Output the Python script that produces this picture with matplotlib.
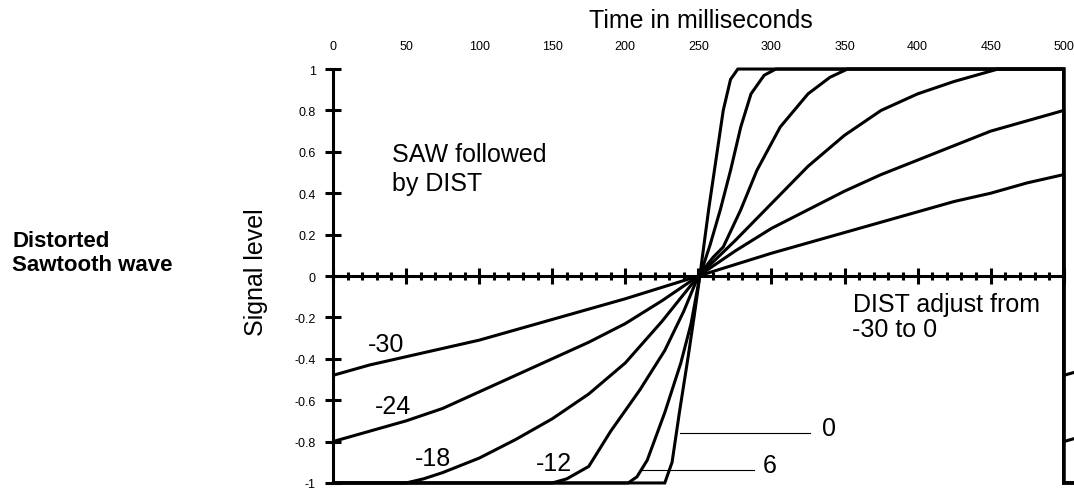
import matplotlib.pyplot as plt

plt.rcParams['font.family'] = ['Liberation Sans', 'DejaVu Sans']

# time axis ticks (ms) and signal level ticks
x_ticks = [0, 50, 100, 150, 200, 250, 300, 350, 400, 450, 500]
y_ticks = [-1, -0.8, -0.6, -0.4, -0.2, 0, 0.2, 0.4, 0.6, 0.8, 1]
y_labels = ['-1', '-0.8', '-0.6', '-0.4', '-0.2', '0', '0.2', '0.4', '0.6', '0.8', '1']

# one period of each distorted saw
t_m30 = [0, 25, 50, 75, 100, 125, 150, 175, 200, 225, 250, 275, 300, 325, 350, 375, 400, 425, 450, 475, 500]
v_m30 = [-0.48, -0.43, -0.39, -0.35, -0.31, -0.26, -0.21, -0.16, -0.11, -0.055, 0.0,
         0.055, 0.11, 0.16, 0.21, 0.26, 0.31, 0.36, 0.40, 0.45, 0.49]

t_m24 = [0, 25, 50, 75, 100, 125, 150, 175, 200, 225, 250, 275, 300, 325, 350, 375, 400, 425, 450, 475, 500]
v_m24 = [-0.80, -0.75, -0.70, -0.64, -0.56, -0.48, -0.40, -0.32, -0.23, -0.12, 0.0,
         0.12, 0.23, 0.32, 0.41, 0.49, 0.56, 0.63, 0.70, 0.75, 0.80]

t_m18 = [0, 50, 62, 75, 100, 125, 150, 175, 200, 225, 250, 275, 300, 325, 350, 375, 400, 425, 440, 455, 500]
v_m18 = [-1, -1, -0.98, -0.95, -0.88, -0.79, -0.69, -0.57, -0.42, -0.22, 0.0,
         0.17, 0.35, 0.53, 0.68, 0.80, 0.88, 0.94, 0.97, 1.0, 1.0]

t_m12 = [0, 150, 160, 175, 190, 200, 210, 227, 240, 250, 260, 267, 279, 290, 306, 325, 340, 352, 500]
v_m12 = [-1, -1, -0.98, -0.92, -0.75, -0.65, -0.55, -0.36, -0.17, 0.0, 0.09, 0.14, 0.32, 0.51,
         0.72, 0.88, 0.96, 1.0, 1.0]

t_0 = [0, 202, 208, 215, 227, 238, 245, 251, 258, 265, 272, 279, 286, 295, 303, 500]
v_0 = [-1, -1, -0.97, -0.89, -0.66, -0.42, -0.23, 0.0, 0.15, 0.32, 0.51, 0.72, 0.88, 0.97, 1.0, 1.0]

t_6 = [0, 227, 232, 237, 243, 247, 251, 257, 262, 267, 272, 277, 500]
v_6 = [-1, -1, -0.90, -0.66, -0.39, -0.20, 0.0, 0.32, 0.56, 0.80, 0.95, 1.0, 1.0]

curves = [(t_m30, v_m30), (t_m24, v_m24), (t_m18, v_m18), (t_m12, v_m12), (t_0, v_0), (t_6, v_6)]
period = 500

W, H = 1074, 489
fig = plt.figure(figsize=(W / 100, H / 100), dpi=100)
ax = fig.add_axes([333 / W, 1 - 488.1 / H, 741 / W, 422.2 / H])
ax.set_xlim(0, 507)
ax.set_ylim(-1.02, 1.02)

for t, v in curves:
    # period plus the start of the next one (reset back down)
    tt = list(t) + [period + t[0], period + t[1]]
    vv = list(v) + [v[0], v[1]]
    ax.plot(tt, vv, color='black', lw=2.2, solid_joinstyle='miter')

# axes: left spine and zero line with crossing ticks
ax.spines['top'].set_visible(False)
ax.spines['right'].set_visible(False)
ax.spines['left'].set_bounds(-1, 1)
ax.spines['left'].set_linewidth(2.2)
ax.spines['bottom'].set_position(('data', 0))
ax.spines['bottom'].set_bounds(0, 500)
ax.spines['bottom'].set_linewidth(2.2)

ax.set_xticks(x_ticks)
ax.set_xticks(range(0, 501, 10), minor=True)
ax.tick_params(axis='x', which='major', direction='inout', length=11, width=2.2, labelbottom=False)
ax.tick_params(axis='x', which='minor', direction='inout', length=6, width=2.2)

ax.set_yticks(y_ticks)
ax.set_yticklabels(y_labels)
ax.tick_params(axis='y', direction='inout', length=11.5, width=2.2, pad=6.5, labelsize=9)

secax = ax.secondary_xaxis('top')
secax.set_xticks(x_ticks)
secax.set_xticklabels([str(x) for x in x_ticks])
secax.tick_params(length=0, pad=9.5, labelsize=9)
secax.spines['top'].set_visible(False)

# texts
fs = 18
ax.text(40.4, 0.556, 'SAW followed', fontsize=fs, va='baseline')
ax.text(40.4, 0.415, 'by DIST', fontsize=fs, va='baseline')
ax.text(355.5, -0.169, 'DIST adjust from', fontsize=fs, va='baseline')
ax.text(355.3, -0.29, '-30 to 0', fontsize=fs, va='baseline')

ax.text(24, -0.362, '-30', fontsize=fs, va='baseline')
ax.text(28.7, -0.662, '-24', fontsize=fs, va='baseline')
ax.text(56.2, -0.913, '-18', fontsize=fs, va='baseline')
ax.text(138.7, -0.937, '-12', fontsize=fs, va='baseline')

ax.plot([237.7, 326.7], [-0.758, -0.758], color='black', lw=0.8)
ax.text(334.7, -0.768, '0', fontsize=fs, va='baseline')
ax.plot([210, 288], [-0.935, -0.935], color='black', lw=0.8)
ax.text(294, -0.947, '6', fontsize=fs, va='baseline')

fig.text(701 / W, 1 - 28 / H, 'Time in milliseconds', fontsize=fs, ha='center', va='baseline')
fig.text(256 / W, 1 - 272 / H, 'Signal level', fontsize=fs, rotation=90, ha='center', va='center')
fig.text(12 / W, 1 - 247 / H, 'Distorted', fontsize=16, fontweight='bold', va='baseline')
fig.text(12 / W, 1 - 271 / H, 'Sawtooth wave', fontsize=16, fontweight='bold', va='baseline')

fig.savefig('out.png', dpi=100)
